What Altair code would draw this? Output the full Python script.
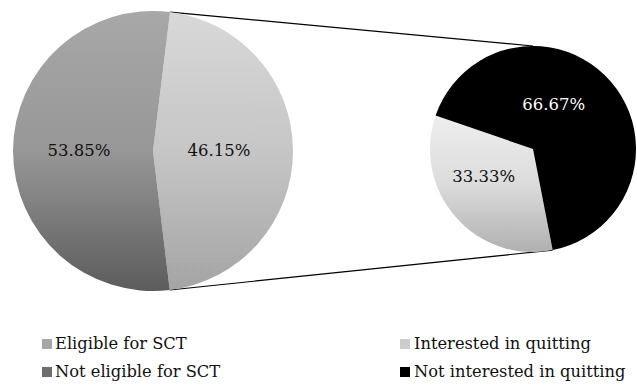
import math
import altair as alt
import pandas as pd

# ---------------- data ----------------
left_categories = ["Eligible for SCT", "Not eligible for SCT"]
left_values = [46.15, 53.85]
left_labels = ["46.15%", "53.85%"]

right_categories = ["Interested in quitting", "Not interested in quitting"]
right_values = [33.33, 66.67]
right_labels = ["33.33%", "66.67%"]

legend_colors = ["#a6a6a6", "#6e6e6e", "#cccccc", "#000000"]

# ---------------- layout / style ----------------
W, H = 637, 387
FONT = "DejaVu Serif"


def grad(stops):
    return alt.LinearGradient(
        gradient="linear",
        stops=[alt.GradientStop(offset=o, color=c) for o, c in stops],
        x1=0, x2=0, y1=0, y2=1,
    )


left_spec = dict(
    cx=153, cy=151, r=140, start=7,
    fills=[grad([(0, "#d8d8d8"), (0.5, "#c6c6c6"), (1, "#a4a4a4")]),
           grad([(0, "#a8a8a8"), (0.5, "#979797"), (1, "#5c5c5c")])],
    label_r=[66, 74], dx=[0, 0], dy=[0, 0], text_color=["#111111", "#111111"],
)
right_spec = dict(
    cx=533, cy=149, r=103, start=169,
    fills=[grad([(0, "#eeeeee"), (0.5, "#dcdcdc"), (1, "#b0b0b0")]), "#000000"],
    label_r=[56, 50], dx=[-7, -17], dy=[-9, -11], text_color=["#111111", "#ffffff"],
)


def pie_layers(cats, vals, labels, spec):
    df = pd.DataFrame({"category": cats, "value": vals, "label": labels,
                       "order": list(range(len(cats)))})
    s = math.radians(spec["start"])
    scale = alt.Scale(domain=[0, 100], range=[s, s + 2 * math.pi])
    base = (
        alt.Chart(df)
        .transform_window(cum="sum(value)", sort=[alt.SortField("order", order="ascending")],
                          frame=[None, 0])
        .transform_calculate(start="datum.cum - datum.value",
                             mid="datum.cum - datum.value / 2")
    )
    layers = []
    for i, c in enumerate(cats):
        sub = base.transform_filter(alt.datum.category == c)
        layers.append(
            sub.mark_arc(radius=spec["r"], fill=spec["fills"][i], strokeWidth=0).encode(
                theta=alt.Theta("start:Q", scale=scale),
                theta2="cum:Q",
                x=alt.value(spec["cx"]),
                y=alt.value(spec["cy"]),
            )
        )
    for i, c in enumerate(cats):
        sub = base.transform_filter(alt.datum.category == c)
        layers.append(
            sub.mark_text(radius=spec["label_r"][i], dx=spec["dx"][i], dy=spec["dy"][i],
                          font=FONT, fontSize=16.5, color=spec["text_color"][i],
                          align="center", baseline="middle").encode(
                theta=alt.Theta("mid:Q", scale=scale),
                text="label:N",
                x=alt.value(spec["cx"]),
                y=alt.value(spec["cy"]),
            )
        )
    return layers


xs = alt.Scale(domain=[0, W], range=[0, W], nice=False, zero=False)
ys = alt.Scale(domain=[0, H], range=[0, H], nice=False, zero=False)

# connector lines: from the ends of the "Eligible" slice to the top/bottom of the second pie
a0 = math.radians(left_spec["start"])
a1 = math.radians(left_spec["start"] + left_values[0] * 3.6)
b0 = 0.0
b1 = math.radians(right_spec["start"])


def pt(spec, a):
    return (spec["cx"] + spec["r"] * math.sin(a), spec["cy"] - spec["r"] * math.cos(a))


p1, q1 = pt(left_spec, a0), pt(right_spec, b0)
p2, q2 = pt(left_spec, a1), pt(right_spec, b1)
conn_df = pd.DataFrame({"x": [p1[0], p2[0]], "y": [p1[1], p2[1]],
                        "x2": [q1[0], q2[0]], "y2": [q1[1], q2[1]]})
connectors = alt.Chart(conn_df).mark_rule(color="#000000", strokeWidth=1.2).encode(
    x=alt.X("x:Q", scale=xs, axis=None),
    y=alt.Y("y:Q", scale=ys, axis=None),
    x2="x2:Q",
    y2="y2:Q",
)

# legend
leg_cats = left_categories + right_categories
square_x = [47, 405]
text_x = [55, 414]
row_y = [344, 372]
leg_df = pd.DataFrame({"category": leg_cats})
leg_df["col"] = [0, 0, 1, 1]
leg_df["row"] = [0, 1, 0, 1]
leg_df["sx"] = [square_x[c] for c in leg_df["col"]]
leg_df["tx"] = [text_x[c] for c in leg_df["col"]]
leg_df["ly"] = [row_y[r] for r in leg_df["row"]]

leg_squares = alt.Chart(leg_df).mark_square(size=100, opacity=1).encode(
    x=alt.X("sx:Q", scale=xs, axis=None),
    y=alt.Y("ly:Q", scale=ys, axis=None),
    color=alt.Color("category:N", scale=alt.Scale(domain=leg_cats, range=legend_colors),
                    legend=None),
)
leg_text = alt.Chart(leg_df).mark_text(align="left", baseline="middle", font=FONT,
                                       fontSize=16.3, color="#111111").encode(
    x=alt.X("tx:Q", scale=xs, axis=None),
    y=alt.Y("ly:Q", scale=ys, axis=None),
    text="category:N",
)

layers = ([connectors]
          + pie_layers(left_categories, left_values, left_labels, left_spec)
          + pie_layers(right_categories, right_values, right_labels, right_spec)
          + [leg_squares, leg_text])

chart = (
    alt.layer(*layers)
    .resolve_scale(theta="independent")
    .properties(width=W, height=H, autosize=alt.AutoSizeParams(type="none"), padding=0,
                background="white")
    .configure_view(stroke=None)
)

chart.save("out.html", embed_options={"renderer": "svg", "actions": False})
